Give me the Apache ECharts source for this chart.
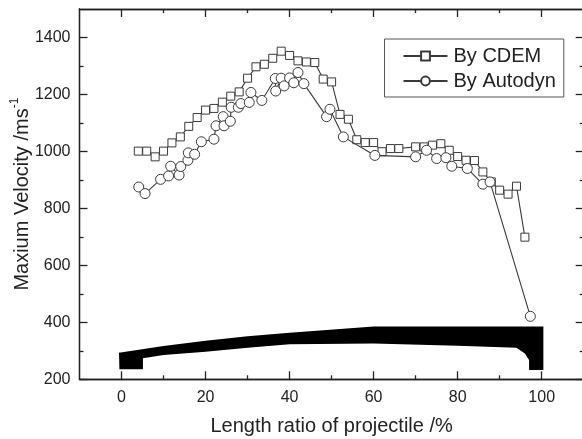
<!DOCTYPE html>
<html>
<head>
<meta charset="utf-8">
<style>
  html, body { margin: 0; background: #fff; }
  #chart { width: 582px; height: 439px; }
</style>
<script src="https://cdn.jsdelivr.net/npm/echarts@6/dist/echarts.min.js"></script>
</head>
<body>
<div id="chart"></div>
<script>
const cdemX = [4, 6, 8, 10, 12, 14, 16, 18, 20, 22, 24, 26, 28, 30, 32, 34, 36, 38, 40, 42, 44, 46, 48, 50, 52, 54, 56, 58, 60, 62, 64, 66, 70, 72, 74, 76, 78, 80, 82, 84, 86, 88, 90, 92, 94, 96];
const cdemY = [1001, 1001, 981, 1001, 1030, 1051, 1088, 1119, 1145, 1151, 1173, 1194, 1209, 1257, 1297, 1306, 1327, 1352, 1337, 1318, 1314, 1312, 1254, 1244, 1130, 1113, 1041, 1031, 1031, 999, 1010, 1010, 1016, 1016, 1022, 1027, 1004, 982, 969, 968, 928, 893, 864, 850, 878, 699];
const autodynX = [4.1, 5.6, 9.3, 11.2, 11.7, 13.7, 14.1, 15.8, 15.9, 17.4, 19, 22, 22.5, 24.2, 24.4, 25.9, 26.1, 27.8, 28.4, 30.4, 30.8, 33.4, 36.6, 36.7, 38, 38.7, 40, 41, 42, 43.4, 48.8, 49.6, 52.8, 60.3, 70, 72.6, 75, 77.2, 78.6, 82.3, 86, 87.7, 97.3];
const autodynY = [875, 852, 902, 914, 948, 917, 947, 969, 995, 990, 1034, 1043, 1090, 1122, 1090, 1106, 1155, 1155, 1168, 1172, 1207, 1179, 1256, 1212, 1257, 1230, 1258, 1241, 1277, 1238, 1122, 1148, 1051, 986, 981, 1004, 975, 978, 948, 940, 885, 893, 421];

// projectile silhouette in axis units, walked clockwise from the nose
const shapeX = [-0.6, 10, 20, 30, 40, 60, 100.4, 100.4, 97, 97, 96, 94, 80, 60, 40, 30, 20, 10, 5.1, 5.1, -0.5];
const shapeY = [293, 317, 335, 351, 363, 385, 385, 233, 233, 268, 291, 311, 318, 326, 323, 311, 297, 285, 274, 235, 235];

const xMajor = [0, 20, 40, 60, 80, 100];
const xMinor = [10, 30, 50, 70, 90];
const yMajor = [200, 400, 600, 800, 1000, 1200, 1400];
const yMinor = [300, 500, 700, 900, 1100, 1300];

const ink = '#222';
const mark = '#3a3a3a';

function axis(min, max, position, ticks, len, extra) {
  return Object.assign({
    type: 'value', min, max, position,
    splitLine: { show: false },
    axisLine: { onZero: false, lineStyle: { color: ink, width: 1.3 } },
    axisTick: { inside: true, length: len, customValues: ticks, lineStyle: { color: ink, width: 1.3 } },
    axisLabel: { show: false }
  }, extra);
}

const xLabels = {
  axisLabel: { show: true, customValues: xMajor, color: ink, fontSize: 16, margin: 10, fontFamily: 'Liberation Sans' },
  name: 'Length ratio of projectile /%', nameLocation: 'middle', nameGap: 37,
  nameTextStyle: { color: ink, fontSize: 20, fontFamily: 'Liberation Sans' }
};
const yLabels = {
  axisLabel: {
    show: true, customValues: yMajor, color: ink, fontSize: 16, margin: 9, fontFamily: 'Liberation Sans',
    formatter: v => String(v)
  },
  name: '{a|Maxium Velocity /ms}{b|-1}', nameLocation: 'middle', nameGap: 47, nameMoveOverlap: false,
  nameTextStyle: {
    rich: {
      a: { color: ink, fontSize: 20, fontFamily: 'Liberation Sans', verticalAlign: 'bottom', lineHeight: 24 },
      b: { color: ink, fontSize: 12, fontFamily: 'Liberation Sans', verticalAlign: 'top', lineHeight: 24 }
    }
  }
};

const chart = echarts.init(document.getElementById('chart'), null, { renderer: 'canvas' });
chart.setOption({
  animation: false,
  backgroundColor: '#fff',
  grid: { left: 79.5, top: 9, width: 504.2, height: 370.3, containLabel: false, outerBoundsMode: 'none' },
  xAxis: [
    axis(-10, 110, 'bottom', xMajor, 8, xLabels),
    axis(-10, 110, 'bottom', xMinor, 4),
    axis(-10, 110, 'top', xMajor, 8),
    axis(-10, 110, 'top', xMinor, 4)
  ],
  yAxis: [
    axis(200, 1500, 'left', yMajor, 8, yLabels),
    axis(200, 1500, 'left', yMinor, 4),
    axis(200, 1500, 'right', yMajor, 8),
    axis(200, 1500, 'right', yMinor, 4)
  ],
  legend: {
    left: 384.5, top: 39, orient: 'vertical',
    data: ['By CDEM', 'By Autodyn'],
    itemWidth: 44, itemHeight: 11, itemGap: 5,
    padding: [7, 8, 6, 18],
    borderColor: '#555', borderWidth: 1,
    textStyle: { color: ink, fontSize: 20, fontFamily: 'Liberation Sans', padding: [0, 0, 0, 1] }
  },
  series: [
    {
      type: 'custom', silent: true, z: 1, clip: false,
      data: [0],
      renderItem(params, api) {
        return {
          type: 'polygon',
          shape: { points: shapeX.map((x, i) => api.coord([x, shapeY[i]])) },
          style: { fill: '#000' }
        };
      }
    },
    {
      name: 'By CDEM', type: 'line', z: 3,
      data: cdemX.map((x, i) => [x, cdemY[i]]),
      symbol: 'rect', symbolSize: 8, showAllSymbol: true,
      lineStyle: { color: mark, width: 1.1 },
      itemStyle: { color: '#fff', borderColor: mark, borderWidth: 1 }
    },
    {
      name: 'By Autodyn', type: 'line', z: 4,
      data: autodynX.map((x, i) => [x, autodynY[i]]),
      symbol: 'circle', symbolSize: 10, showAllSymbol: true,
      lineStyle: { color: mark, width: 1.1 },
      itemStyle: { color: '#fff', borderColor: mark, borderWidth: 1 }
    }
  ]
});
</script>
</body>
</html>
